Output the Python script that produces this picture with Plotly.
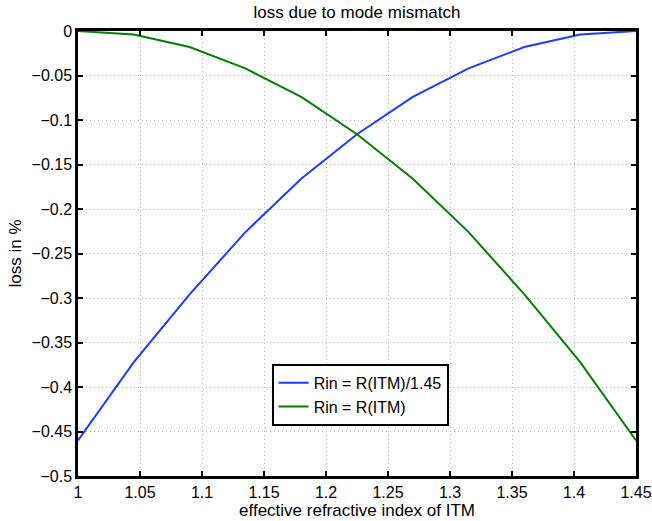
import plotly.graph_objects as go

x_vals = [1.0, 1.045, 1.09, 1.135, 1.18, 1.225, 1.27, 1.315, 1.36, 1.405, 1.45]
loss_rin_scaled = [-0.46, -0.372, -0.296, -0.226, -0.166, -0.116, -0.074, -0.042, -0.018, -0.004, 0.0]
loss_rin_itm = [0.0, -0.004, -0.018, -0.042, -0.074, -0.116, -0.166, -0.226, -0.296, -0.372, -0.46]
series_names = ["Rin = R(ITM)/1.45", "Rin = R(ITM)"]

FONT = "Liberation Sans, Arial, Helvetica, sans-serif"
FS = 17

fig = go.Figure()
fig.add_trace(go.Scatter(x=x_vals, y=loss_rin_scaled, mode="lines", name=series_names[0],
                         line=dict(color="#1a3cff", width=2)))
fig.add_trace(go.Scatter(x=x_vals, y=loss_rin_itm, mode="lines", name=series_names[1],
                         line=dict(color="#008000", width=2)))

axis_common = dict(
    showline=True, linecolor="black", linewidth=2.5, mirror="ticks",
    ticks="inside", ticklen=5, tickwidth=1.5, tickcolor="black",
    showgrid=True, gridcolor="#b0b0b0", griddash="1px,3px", gridwidth=1,
    zeroline=False, automargin=False,
    tickfont=dict(family=FONT, size=16, color="black"),
)

fig.update_xaxes(range=[1, 1.45], tick0=1, dtick=0.05,
                 title=dict(text="effective refractive index of ITM",
                            font=dict(family=FONT, size=FS, color="black"), standoff=2),
                 **axis_common)
fig.update_yaxes(range=[-0.5, 0], tick0=0, dtick=0.05,
                 title=dict(text="loss in %",
                            font=dict(family=FONT, size=FS, color="black"), standoff=6),
                 **axis_common)

fig.update_layout(
    width=652, height=521,
    margin=dict(l=78, r=16, t=31, b=45, autoexpand=False),
    paper_bgcolor="white", plot_bgcolor="white",
    title=dict(text="loss due to mode mismatch", x=0.5, xref="paper", xanchor="center",
               y=1 - 12 / 521, yanchor="middle",
               font=dict(family=FONT, size=FS, color="black")),
    legend=dict(x=0.347, y=0.252, xanchor="left", yanchor="top",
                bgcolor="white", bordercolor="black", borderwidth=2,
                font=dict(family=FONT, size=16, color="black"),
                tracegroupgap=0, itemwidth=30),
    showlegend=True,
)

fig.write_html("out.html", config={"displayModeBar": False},
               post_script="document.body.style.margin='0';")
